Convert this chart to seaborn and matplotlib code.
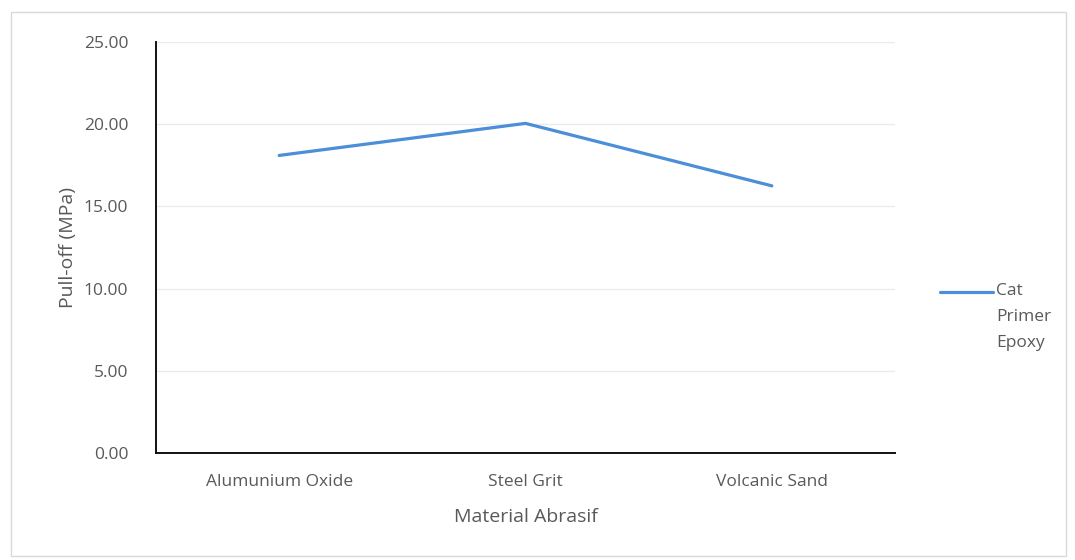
import matplotlib
matplotlib.use("Agg")
import matplotlib.pyplot as plt
import matplotlib.patches as mpatches
from matplotlib.lines import Line2D
import seaborn as sns
import pandas as pd

# Pull-off strength per abrasive material
materials = ["Alumunium Oxide", "Steel Grit", "Volcanic Sand"]
pull_off = [18.1, 20.05, 16.25]
series_name = "Cat\nPrimer\nEpoxy"
y_ticks = [0, 5, 10, 15, 20, 25]

sns.set_theme(style="white")
plt.rcParams["font.family"] = ["Open Sans", "DejaVu Sans"]

text_color = "#595959"
line_color = "#4a8fd8"

fig = plt.figure(figsize=(10.75, 5.6), dpi=100)
ax = fig.add_axes([0.1451, 0.1911, 0.6875, 0.7339])

df = pd.DataFrame({"Material": materials, "Pull-off": pull_off})
sns.lineplot(data=df, x="Material", y="Pull-off", sort=False,
             color=line_color, linewidth=2.3, ax=ax)

ax.set_xlim(-0.5, 2.5)
ax.set_ylim(0, 25)
ax.set_yticks(y_ticks)
ax.set_yticklabels([f"{v:.2f}" for v in y_ticks])

for v in y_ticks[1:]:
    ax.axhline(v, color="#ebebeb", linewidth=1.0, zorder=0)

for side in ["top", "right"]:
    ax.spines[side].set_visible(False)
for side in ["left", "bottom"]:
    ax.spines[side].set_color("#111111")
    ax.spines[side].set_linewidth(1.4)

ax.tick_params(axis="both", length=0, labelsize=12.5, labelcolor=text_color)
ax.tick_params(axis="y", pad=20)
ax.tick_params(axis="x", pad=15)
ax.set_xlabel("Material Abrasif", fontsize=14, color=text_color, labelpad=13)
ax.set_ylabel("Pull-off (MPa)", fontsize=14, color=text_color, labelpad=5)

# Legend: short line sample beside the first line of the wrapped series name
fig.add_artist(Line2D([940 / 1075, 993 / 1075], [1 - 292 / 560, 1 - 292 / 560],
                      transform=fig.transFigure, color=line_color, linewidth=2.3))
fig.text(996 / 1075, 1 - 283 / 560, series_name, fontsize=12.5, color=text_color,
         va="top", ha="left", linespacing=1.85)

# Chart area border
fig.patches.append(mpatches.Rectangle((0.010, 0.008), 0.982, 0.971,
                                      transform=fig.transFigure, fill=False,
                                      edgecolor="#d9d9d9", linewidth=1.0))

fig.savefig("out.png", dpi=100)
